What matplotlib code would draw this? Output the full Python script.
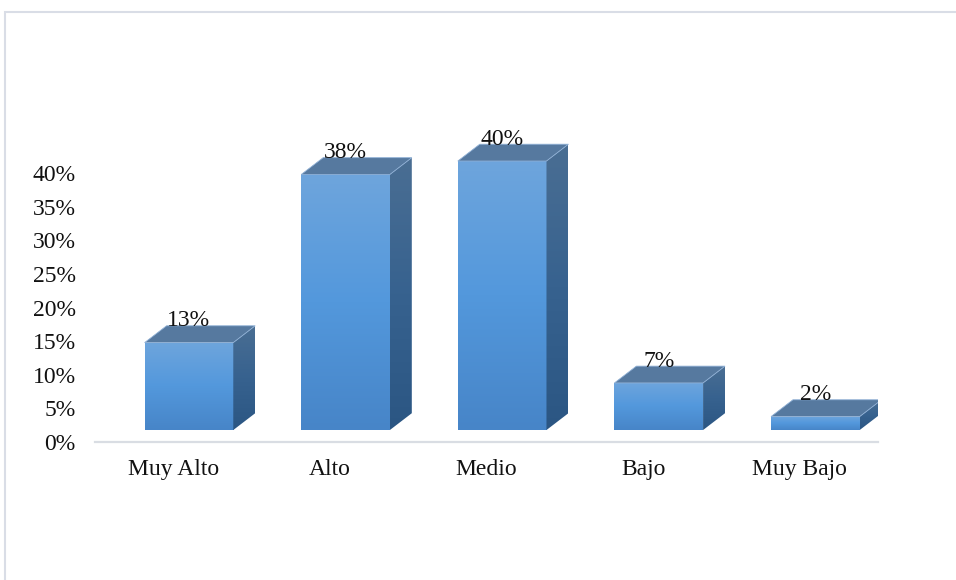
import numpy as np
import matplotlib.pyplot as plt
from matplotlib.patches import Polygon, Rectangle
from matplotlib.colors import LinearSegmentedColormap

categories = ["Muy Alto", "Alto", "Medio", "Bajo", "Muy Bajo"]
values = [13, 38, 40, 7, 2]
labels = ["13%", "38%", "40%", "7%", "2%"]
yticks = [0, 5, 10, 15, 20, 25, 30, 35, 40]

plt.rcParams["font.family"] = ["Liberation Serif", "DejaVu Serif"]

# axes taller than the 0-40 range so the 3D tops are not clipped
ymax = 46
fig = plt.figure(figsize=(9.56, 5.8), dpi=100)
ax = fig.add_axes([95 / 956, 138 / 580, 783 / 956, (269 * ymax / 40) / 580])

# 3D look parameters (data units)
floor = 1.78
depth_x = 0.14
depth_y = 2.5
front_l, front_r = -0.183, 0.383

front_cmap = LinearSegmentedColormap.from_list("front", ["#4785c8", "#5398dc", "#6ea5dd"])
side_cmap = LinearSegmentedColormap.from_list("side", ["#2b5683", "#37628f", "#4a6e93"])
grad = np.linspace(0, 1, 256).reshape(-1, 1)
fs = 17

for i, v in enumerate(values):
    xl, xr = i + front_l, i + front_r
    b, t = floor, floor + v

    # front face with gradient
    front = Rectangle((xl, b), xr - xl, v, facecolor="none", edgecolor="none")
    ax.add_patch(front)
    im = ax.imshow(grad, extent=[xl, xr, b, t], origin="lower", aspect="auto",
                   cmap=front_cmap, zorder=2)
    im.set_clip_path(front)

    # side face
    side = Polygon([(xr, b), (xr + depth_x, b + depth_y), (xr + depth_x, t + depth_y), (xr, t)],
                   closed=True, facecolor="none", edgecolor="none")
    ax.add_patch(side)
    im2 = ax.imshow(grad, extent=[xr, xr + depth_x, b, t + depth_y], origin="lower",
                    aspect="auto", cmap=side_cmap, zorder=2)
    im2.set_clip_path(side)

    # top face
    top = Polygon([(xl, t), (xr, t), (xr + depth_x, t + depth_y), (xl + depth_x, t + depth_y)],
                  closed=True, facecolor="#56799f", edgecolor="#8fb0d6", linewidth=0.6,
                  zorder=3)
    ax.add_patch(top)

    ax.text(i + 0.10, t + depth_y - 0.1, labels[i], ha="center", va="baseline",
            fontsize=fs, color="#111111", zorder=4)

ax.set_xlim(-0.5, 4.5)
ax.set_ylim(0, ymax)

ax.set_yticks(yticks)
ax.set_yticklabels([f"{y}%" for y in yticks], fontsize=fs, color="#111111")
ax.set_xticks(range(len(categories)))
ax.set_xticklabels(categories, fontsize=fs, color="#111111")
ax.tick_params(axis="y", length=0, pad=14)
ax.tick_params(axis="x", length=0, pad=12)

for s in ["top", "right", "left"]:
    ax.spines[s].set_visible(False)
ax.spines["bottom"].set_color("#d9dde3")
ax.spines["bottom"].set_linewidth(1.6)
ax.patch.set_alpha(0)

# chart area border
border = Rectangle((5 / 956, -0.2), 1.2, 1.2 - 12 / 580, transform=fig.transFigure,
                   facecolor="none", edgecolor="#d9dde6", linewidth=1.5)
fig.add_artist(border)

fig.savefig("out.png", dpi=100)
